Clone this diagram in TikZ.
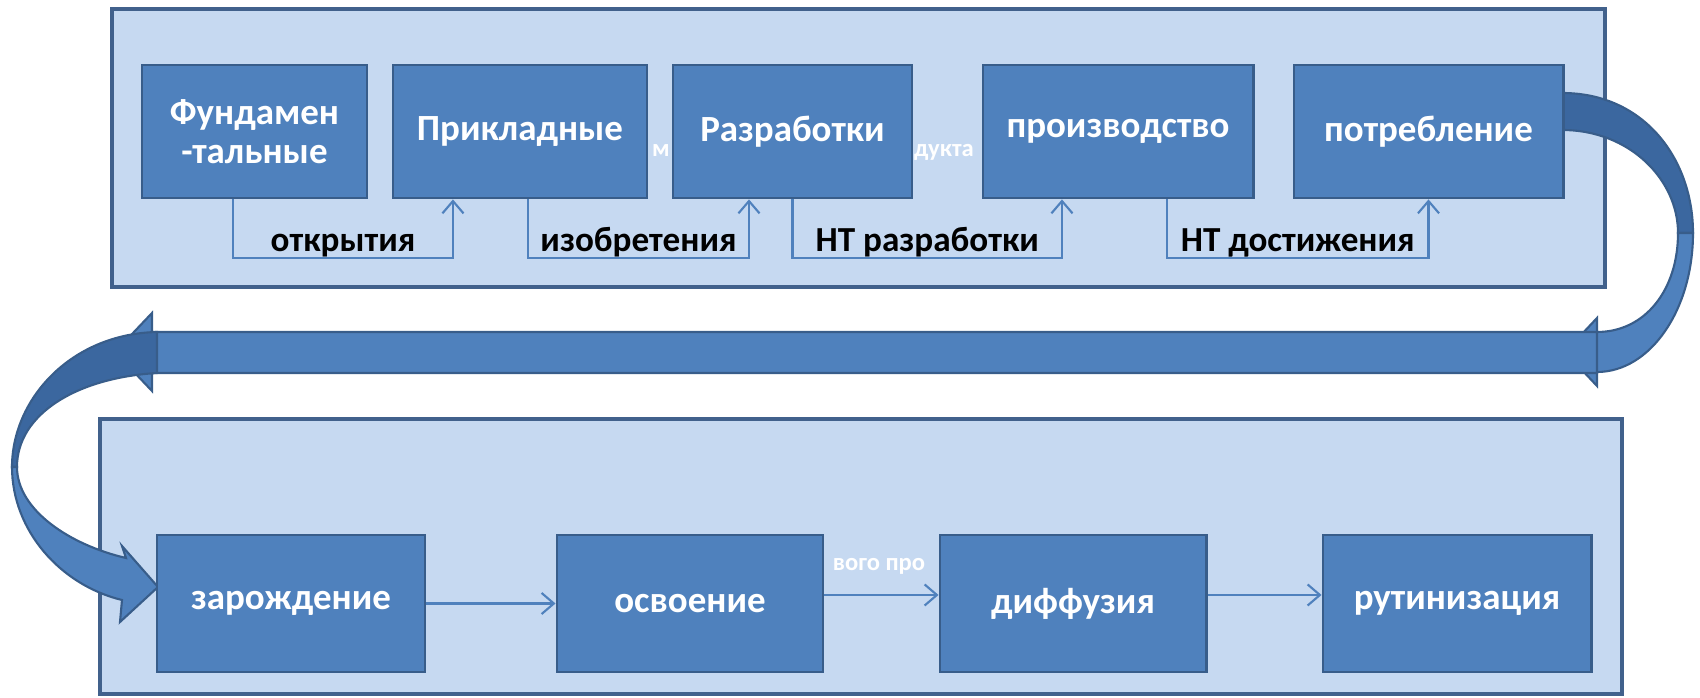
\documentclass[tikz,border=0pt]{standalone}
\usepackage{fontspec}
\setmainfont{Carlito}
\usetikzlibrary{arrows.meta}

\definecolor{boxblue}{HTML}{4F81BD}
\definecolor{boxline}{HTML}{385D8A}
\definecolor{panelfill}{HTML}{C6D9F1}
\definecolor{panelline}{HTML}{41618C}
\definecolor{darkblue}{HTML}{3B679F}

\begin{document}
\begin{tikzpicture}[x=0.01cm,y=-0.01cm,
        panel/.style={fill=panelfill, draw=panelline, line width=1pt},
        box/.style={rectangle, fill=boxblue, draw=boxline, line width=0.8pt,
                        text=white, align=center, inner sep=2pt,
                        font=\fontsize{10.5}{11}\selectfont\bfseries,
                        minimum height=1.33cm},
        lowbox/.style={box, minimum height=1.37cm},
        link/.style={draw=boxblue, line width=0.6pt,
                        -{Straight Barb[length=3.5pt,width=6pt]}},
        lbl/.style={font=\fontsize{10}{12}\selectfont\bfseries,
                        inner sep=0pt, anchor=base, yshift=0.07cm},
        bit/.style={text=white, inner sep=0pt,
                        font=\fontsize{7}{8}\selectfont\bfseries},
        band/.style={fill=boxblue, draw=boxline, line width=0.6pt},
        bandback/.style={fill=darkblue, draw=boxline, line width=0.6pt}]
    \useasboundingbox (0,0) rectangle (1700,698);

    % two stages
    \draw[panel] (112,9) rectangle (1605,287);
    \draw[panel] (100,419) rectangle (1622,694);

    % turn on the right
    \draw[bandback] (1562,93) .. controls (1645,93) and (1693,160) .. (1693,233)
        -- (1678,233) .. controls (1678,180) and (1630,130) .. (1562,130) -- cycle;
    \draw[band] (1693,233) .. controls (1693,310) and (1650,372) .. (1597,372)
        -- (1597,386) -- (1565,352) -- (1597,318) -- (1597,332)
        .. controls (1645,332) and (1678,290) .. (1678,233) -- cycle;
    % long way back
    \draw[band] (152,313) -- (115,352) -- (152,391) -- (152,373)
        -- (1597,373) -- (1597,332) -- (152,332) -- cycle;
    % turn on the left
    \draw[bandback] (157,332) .. controls (70,334) and (12,400) .. (12,467)
        -- (17,467) .. controls (17,415) and (75,378) .. (157,373) -- cycle;
    \draw[band] (12,467) .. controls (12,530) and (60,585) .. (122,600)
        -- (120,622) -- (158,587) -- (122,546) -- (126,558)
        .. controls (70,545) and (17,510) .. (17,467) -- cycle;

    % bits of text under the boxes
    \node[bit] (m) at (661,151) {м};
    \node[bit] (dukta) at (944,152) {дукта};
    \node[bit] (novogo) at (879,566) {вого про};

    \node[box, minimum width=2.25cm] (fund) at (254.5,131.5) {Фундамен\\-тальные};
    \node[box, minimum width=2.54cm] (prikl) at (520,131.5) {Прикладные};
    \node[box, minimum width=2.39cm] (razr) at (792.5,131.5) {Разработки};
    \node[box, minimum width=2.70cm] (proizv) at (1118,131.5) {производство};
    \node[box, minimum width=2.69cm] (potr) at (1428.5,131.5) {потребление};

    \node[lowbox, minimum width=2.68cm] (zar) at (291,603.5) {зарождение};
    \node[lowbox, minimum width=2.66cm] (osv) at (690,603.5) {освоение};
    \node[lowbox, minimum width=2.66cm] (diff) at (1073,603.5) {диффузия};
    \node[lowbox, minimum width=2.68cm] (rut) at (1457,603.5) {рутинизация};

    \draw[link] ([xshift=-0.215cm]fund.south) -- ++(0,59)
        -| node[lbl, pos=0.25] (otkr) {открытия} ([xshift=-0.67cm]prikl.south);
    \draw[link] ([xshift=0.08cm]prikl.south) -- ++(0,59)
        -| node[lbl, pos=0.25] (izobr) {изобретения} ([xshift=-0.435cm]razr.south);
    \draw[link] (razr.south) -- ++(0,59)
        -| node[lbl, pos=0.25] (ntrazr) {НТ разработки} ([xshift=-0.56cm]proizv.south);
    \draw[link] ([xshift=0.49cm]proizv.south) -- ++(0,59)
        -| node[lbl, pos=0.25] (ntdost) {НТ достижения} (potr.south);

    \draw[link] (zar) -- (osv);
    \draw[link] ([yshift=0.085cm]osv.east) -- ([yshift=0.085cm]diff.west);
    \draw[link] ([yshift=0.085cm]diff.east) -- ([yshift=0.085cm]rut.west);
\end{tikzpicture}
\end{document}
